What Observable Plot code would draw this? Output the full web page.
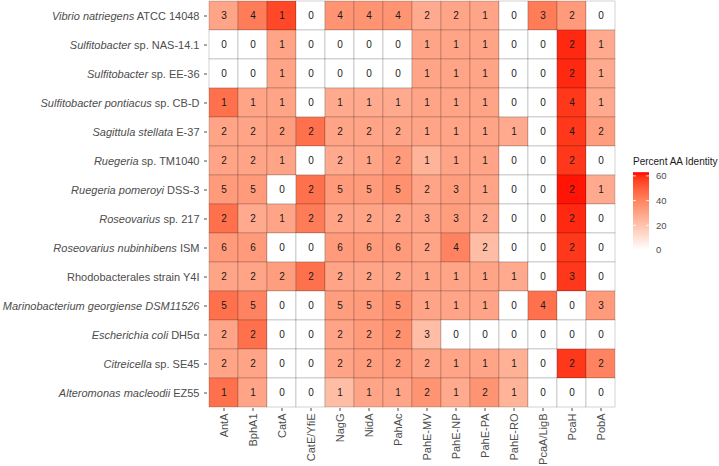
<!DOCTYPE html>
<html>
<head>
<meta charset="utf-8">
<script src="https://cdn.jsdelivr.net/npm/d3@7"></script>
<script src="https://cdn.jsdelivr.net/npm/@observablehq/plot@0.6"></script>
<style>
  html, body { margin: 0; padding: 0; background: white; }
  #chart { width: 719px; height: 466px; }
</style>
</head>
<body>
<div id="chart"></div>
<script>
// ---- data ----
const species = [
  "Vibrio natriegens ATCC 14048",
  "Sulfitobacter sp. NAS-14.1",
  "Sulfitobacter sp. EE-36",
  "Sulfitobacter pontiacus sp. CB-D",
  "Sagittula stellata E-37",
  "Ruegeria sp. TM1040",
  "Ruegeria pomeroyi DSS-3",
  "Roseovarius sp. 217",
  "Roseovarius nubinhibens ISM",
  "Rhodobacterales strain Y4I",
  "Marinobacterium georgiense DSM11526",
  "Escherichia coli DH5α",
  "Citreicella sp. SE45",
  "Alteromonas macleodii EZ55"
];
const italicPart = [
  "Vibrio natriegens", "Sulfitobacter", "Sulfitobacter", "Sulfitobacter pontiacus",
  "Sagittula stellata", "Ruegeria", "Ruegeria pomeroyi", "Roseovarius",
  "Roseovarius nubinhibens", "", "Marinobacterium georgiense DSM11526",
  "Escherichia coli", "Citreicella", "Alteromonas macleodii"
];
const genes = ["AntA","BphA1","CatA","CatE/YfiE","NagG","NidA","PahAc","PahE-MV","PahE-NP","PahE-PA","PahE-RO","PcaA/LigB","PcaH","PobA"];

// gene copy counts (cell labels), one row per species
const counts = [
  [3,4,1,0,4,4,4,2,2,1,0,3,2,0],
  [0,0,1,0,0,0,0,1,1,1,0,0,2,1],
  [0,0,1,0,0,0,0,1,1,1,0,0,2,1],
  [1,1,1,0,1,1,1,1,1,1,0,0,4,1],
  [2,2,2,2,2,2,2,1,1,1,1,0,4,2],
  [2,2,1,0,2,1,2,1,1,1,0,0,2,0],
  [5,5,0,2,5,5,5,2,3,1,0,0,2,1],
  [2,2,1,2,2,2,2,3,3,2,0,0,2,0],
  [6,6,0,0,6,6,6,2,4,2,0,0,2,0],
  [2,2,2,2,2,2,2,1,1,1,1,0,3,0],
  [5,5,0,0,5,5,5,1,1,1,0,4,0,3],
  [2,2,0,0,2,2,2,3,0,0,0,0,0,0],
  [2,2,0,0,2,2,2,2,1,1,1,0,2,2],
  [1,1,0,0,1,1,1,2,1,2,1,0,0,0]
];
// percent amino-acid identity (cell fill), estimated from colours
const identity = [
  [30,42,55,0,35,35,35,28,30,30,0,42,33,0],
  [0,0,30,0,0,0,0,30,30,30,0,0,60,28],
  [0,0,30,0,0,0,0,30,30,30,0,0,60,28],
  [45,30,30,0,28,28,28,30,30,30,0,0,58,28],
  [30,30,32,45,30,30,30,30,30,30,28,0,58,32],
  [30,30,30,0,28,30,33,25,30,30,0,0,58,0],
  [33,33,0,45,33,33,36,30,32,30,0,0,62,28],
  [45,28,30,42,30,30,30,30,32,28,0,0,60,0],
  [33,33,0,0,33,33,33,30,40,22,0,0,58,0],
  [30,30,32,45,30,30,30,30,30,30,28,0,58,0],
  [45,40,0,0,32,33,36,30,30,30,0,45,0,33],
  [30,45,0,0,30,33,36,22,0,0,0,0,0,0],
  [30,30,0,0,30,32,33,30,30,30,26,0,58,40],
  [45,30,0,0,22,30,30,35,28,35,25,0,0,0]
];
const legendTitle = "Percent AA Identity";
const legendTicks = [0, 20, 40, 60];
const colorDomain = [0, 63];

// ---- tidy table ----
const data = [];
species.forEach((s, i) => genes.forEach((g, j) => {
  data.push({species: s, gene: g, count: counts[i][j], identity: identity[i][j]});
}));

const font = "Arial, 'Liberation Sans', Helvetica, sans-serif";
const colorOpts = {type: "linear", domain: colorDomain, range: ["#ffffff", "#ff0000"], interpolate: "lab"};

const chart = Plot.plot({
  width: 719,
  height: 466,
  marginLeft: 207,
  marginRight: 102,
  marginTop: 0,
  marginBottom: 58,
  style: {fontFamily: font, fontSize: "11px", color: "#4d4d4d", background: "white", overflow: "visible"},
  x: {domain: genes, label: null, padding: 0, tickRotate: -90, tickSize: 3, tickPadding: 2},
  y: {domain: species, label: null, padding: 0, tickSize: 3, tickPadding: 5},
  color: colorOpts,
  marks: [
    Plot.cell(data, {x: "gene", y: "species", fill: "identity", inset: 0,
      stroke: "#000", strokeOpacity: 0.25, strokeWidth: 0.7}),
    Plot.text(data, {x: "gene", y: "species", text: "count", fill: "#1a1a1a", fontSize: 10})
  ]
});

// rich text for y tick labels (italic genus/species)
d3.select(chart).selectAll('g[aria-label="y-axis tick label"] text').each(function() {
  const el = d3.select(this);
  const full = this.textContent;
  const i = species.indexOf(full);
  if (i < 0) return;
  const it = italicPart[i];
  el.text(null);
  if (it) el.append("tspan").attr("font-style", "italic").text(it);
  const rest = full.slice(it.length);
  if (rest) el.append("tspan").text(rest);
});

// vertical colourbar legend
const cScale = Plot.scale({color: colorOpts});
const lx = 633, lw = 16, pxPerUnit = 1.235, y0 = 250;
const yOf = v => y0 - v * pxPerUnit;
const svg = d3.select(chart);
const defs = svg.append("defs");
const grad = defs.append("linearGradient").attr("id", "legGrad")
  .attr("x1", 0).attr("y1", 1).attr("x2", 0).attr("y2", 0);
d3.range(0, 1.0001, 0.05).forEach(t => {
  grad.append("stop").attr("offset", t)
    .attr("stop-color", cScale.apply(colorDomain[0] + t * (colorDomain[1] - colorDomain[0])));
});
const leg = svg.append("g").attr("font-family", font).attr("text-anchor", "start");
leg.append("text").attr("x", lx).attr("y", 165).attr("fill", "#1a1a1a")
  .attr("font-size", "10px").text(legendTitle);
leg.append("rect").attr("x", lx).attr("y", yOf(colorDomain[1])).attr("width", lw)
  .attr("height", (colorDomain[1] - colorDomain[0]) * pxPerUnit).attr("fill", "url(#legGrad)");
legendTicks.forEach(v => {
  leg.append("line").attr("x1", lx).attr("x2", lx + 3).attr("y1", yOf(v)).attr("y2", yOf(v))
    .attr("stroke", "white").attr("stroke-width", 0.8);
  leg.append("line").attr("x1", lx + lw - 3).attr("x2", lx + lw).attr("y1", yOf(v)).attr("y2", yOf(v))
    .attr("stroke", "white").attr("stroke-width", 0.8);
  leg.append("text").attr("x", lx + lw + 7).attr("y", yOf(v)).attr("dy", "0.35em")
    .attr("fill", "#4d4d4d").attr("font-size", "9.5px").text(v);
});

document.getElementById("chart").appendChild(chart);
</script>
</body>
</html>
